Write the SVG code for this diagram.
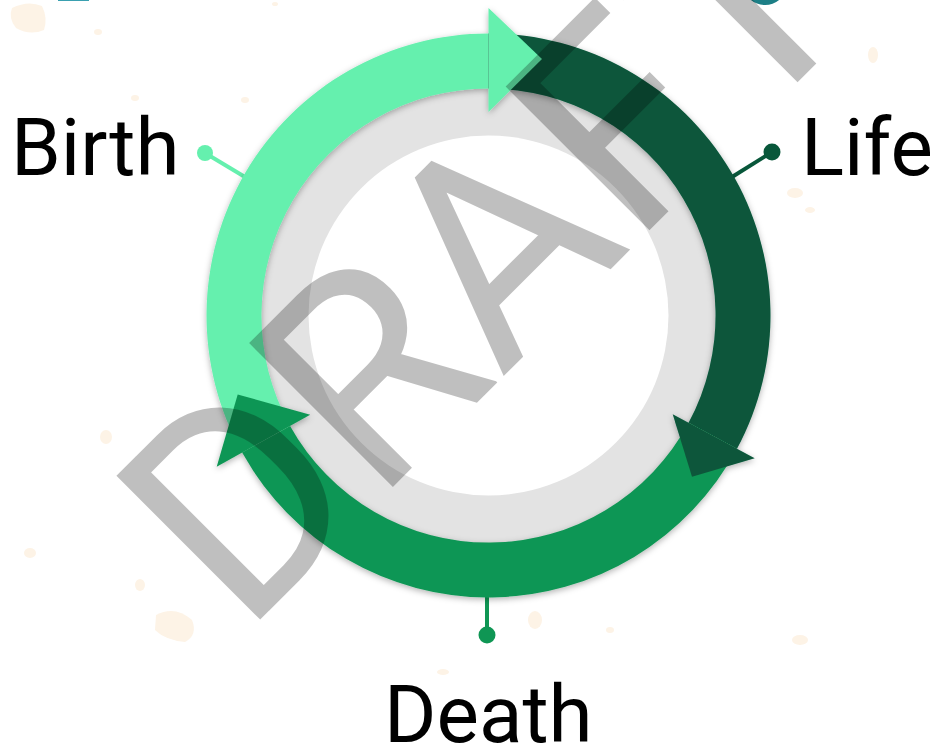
<svg xmlns="http://www.w3.org/2000/svg" width="936" height="747" viewBox="0 0 936 747">
  <defs>
    <style>
      .lbl { font-family: Roboto, "Liberation Sans", sans-serif; font-size: 80px; fill: #000; }
      .wm { font-family: Roboto, "Liberation Sans", sans-serif; font-size: 286px; fill: #000; fill-opacity: 0.25; }
      .speck { fill: #fdf3e6; }
      .light { fill: #65f0ae; }
      .dark { fill: #08573a; }
      .mid { fill: #0f9654; }
      .lead { stroke-width: 4; fill: none; }
    </style>
    <filter id="sh" x="-20%" y="-20%" width="140%" height="140%">
      <feDropShadow dx="0" dy="2" stdDeviation="3" flood-color="#000" flood-opacity="0.3"/>
    </filter>
  </defs>
  <rect width="936" height="747" fill="#ffffff"/>
  <g id="background-specks">
    <path class="speck" d="M12 8 Q28 0 42 6 Q48 18 44 30 Q30 36 16 28 Q8 18 12 8 Z"/>
    <ellipse class="speck" cx="98" cy="32" rx="4" ry="3"/>
    <ellipse class="speck" cx="245" cy="100" rx="4" ry="3"/>
    <ellipse class="speck" cx="135" cy="98" rx="4" ry="3"/>
    <ellipse class="speck" cx="275" cy="4" rx="3" ry="2"/>
    <ellipse class="speck" cx="106" cy="437" rx="6" ry="7"/>
    <ellipse class="speck" cx="30" cy="553" rx="6" ry="5"/>
    <ellipse class="speck" cx="140" cy="585" rx="5" ry="6"/>
    <path class="speck" d="M156 615 Q175 605 192 620 Q198 635 185 642 Q165 640 155 630 Z"/>
    <ellipse class="speck" cx="873" cy="55" rx="5" ry="8"/>
    <ellipse class="speck" cx="800" cy="640" rx="8" ry="5"/>
    <ellipse class="speck" cx="535" cy="620" rx="7" ry="9"/>
    <ellipse class="speck" cx="610" cy="630" rx="4" ry="3"/>
    <ellipse class="speck" cx="443" cy="672" rx="6" ry="3"/>
    <ellipse class="speck" cx="795" cy="193" rx="8" ry="5"/>
    <ellipse class="speck" cx="810" cy="210" rx="5" ry="3"/>
  </g>
  <rect x="58" y="-5" width="31" height="6" fill="#3aa0b0"/>
  <ellipse cx="765" cy="-19" rx="20" ry="21" fill="none" stroke="#1d7f86" stroke-width="6"/>

  <g id="ring-base">
    <circle cx="488.5" cy="315.5" r="229" fill="#e3e3e3"/>
    <circle cx="488.5" cy="315.5" r="180" fill="#ffffff"/>
  </g>

  <g id="connectors">
    <line class="lead" x1="205" y1="153" x2="245" y2="177" stroke="#65f0ae"/>
    <circle cx="205" cy="153" r="8" fill="#65f0ae"/>
    <line class="lead" x1="772" y1="152" x2="732" y2="177" stroke="#08573a"/>
    <circle cx="772" cy="152" r="8.5" fill="#08573a"/>
    <line class="lead" x1="487" y1="592" x2="487" y2="635" stroke="#0f9654"/>
    <circle cx="487" cy="635" r="8.5" fill="#0f9654"/>
  </g>

  <g id="arcs" filter="url(#sh)">
    <path id="arc-birth" class="light" d="M242.1 452.6 A282 282 0 0 1 488.5 33.5 L488.5 88.5 A227 227 0 0 0 290.1 425.9 Z"/>
    <path id="arc-life" class="dark" d="M488.5 33.5 A282 282 0 0 1 737.0 448.8 L688.6 422.8 A227 227 0 0 0 488.5 88.5 Z"/>
    <path id="arc-death" class="mid" d="M737.0 448.8 A282 282 0 0 1 242.1 452.6 L290.1 425.9 A227 227 0 0 0 688.6 422.8 Z"/>
    <polygon id="head-birth" class="light" points="488.5,8 542,59 488.5,112"/>
    <polygon id="head-life" class="dark" points="672.7,414.3 692,476.7 754.7,458.2"/>
    <polygon id="head-death" class="mid" points="310.2,414.7 237.7,394.4 216.7,466.7"/>
  </g>

  <g id="node-birth">
    <text class="lbl" x="11" y="175">Birth</text>
  </g>
  <g id="node-life">
    <text class="lbl" x="801" y="175">Life</text>
  </g>
  <g id="node-death">
    <text class="lbl" x="384" y="742">Death</text>
  </g>

  <g id="watermark">
    <text class="wm" x="0" y="0" transform="translate(243.5 636.3) rotate(-45)">DRAFT</text>
  </g>
</svg>
